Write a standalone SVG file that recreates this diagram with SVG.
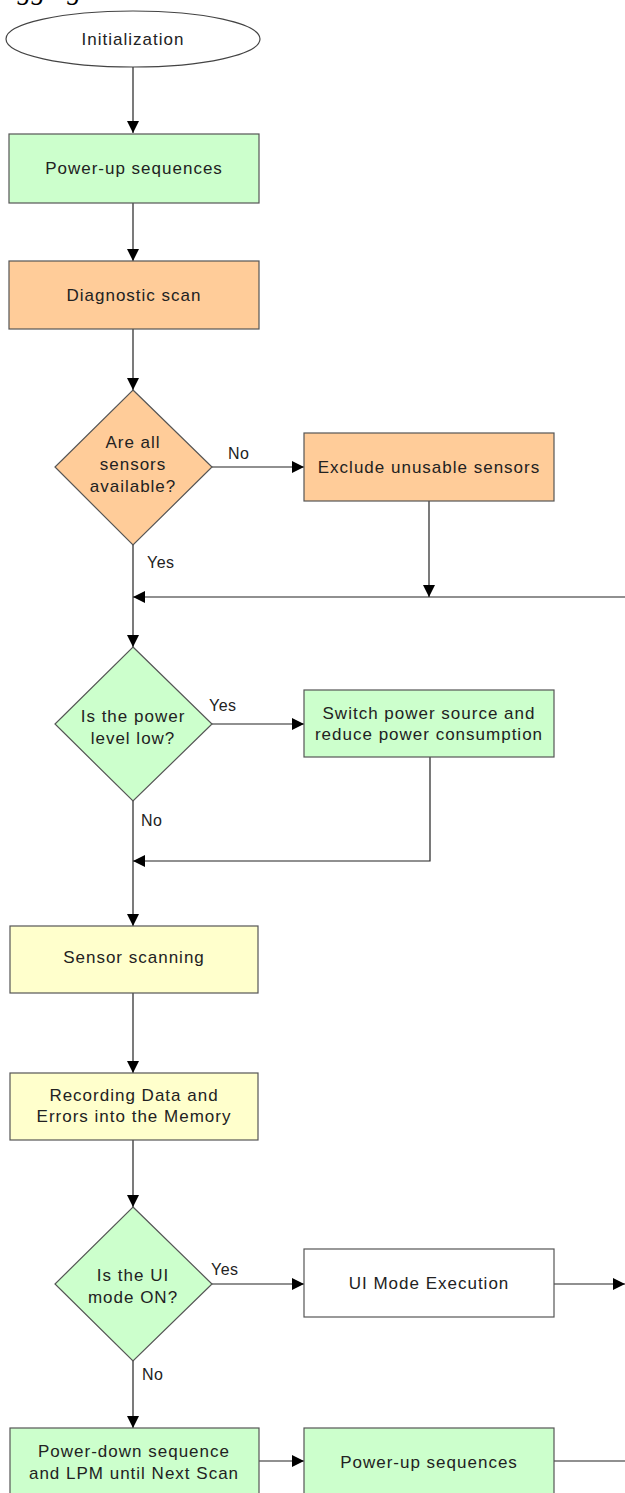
<svg xmlns="http://www.w3.org/2000/svg" width="625" height="1493" viewBox="0 0 625 1493">
<defs>
<marker id="ah" markerUnits="userSpaceOnUse" markerWidth="12" markerHeight="12" viewBox="0 0 12 12" refX="12" refY="6" orient="auto">
<path d="M0,0 L12,6 L0,12 Z" fill="#000"/>
</marker>
<style>
.t{font-family:"Liberation Sans",Arial,sans-serif;font-size:17px;letter-spacing:1px;fill:#222;text-anchor:middle}
.l{font-family:"Liberation Sans",Arial,sans-serif;font-size:16px;letter-spacing:0.5px;fill:#222}
.box{stroke:#555;stroke-width:1.2}
.g{fill:#CCFFCC}.o{fill:#FFCC99}.y{fill:#FFFFCC}.w{fill:#FFFFFF}
.c{fill:none;stroke:#222;stroke-width:1.2}
</style>
</defs>
<rect width="625" height="1493" fill="#fff"/>
<text x="-12" y="-1" font-family="'Liberation Serif',serif" font-style="italic" font-size="28" fill="#000">Logging</text>

<g id="connectors">
<path class="c" d="M133,67 V133" marker-end="url(#ah)"/>
<path class="c" d="M133,203 V261" marker-end="url(#ah)"/>
<path class="c" d="M133,329 V390" marker-end="url(#ah)"/>
<path class="c" d="M212,467 H304" marker-end="url(#ah)"/>
<path class="c" d="M429,501 V597" marker-end="url(#ah)"/>
<path class="c" d="M625,597 H133" marker-end="url(#ah)"/>
<path class="c" d="M133,545 V647" marker-end="url(#ah)"/>
<path class="c" d="M212,724 H304" marker-end="url(#ah)"/>
<path class="c" d="M430,757 V861 H133" marker-end="url(#ah)"/>
<path class="c" d="M133,801 V926" marker-end="url(#ah)"/>
<path class="c" d="M133,993 V1073" marker-end="url(#ah)"/>
<path class="c" d="M133,1140 V1207" marker-end="url(#ah)"/>
<path class="c" d="M212,1284 H304" marker-end="url(#ah)"/>
<path class="c" d="M554,1284 H625" marker-end="url(#ah)"/>
<path class="c" d="M133,1361 V1428" marker-end="url(#ah)"/>
<path class="c" d="M259,1461 H304" marker-end="url(#ah)"/>
<path class="c" d="M554,1461 H625"/>
<text class="l" x="228" y="459">No</text>
<text class="l" x="147" y="568">Yes</text>
<text class="l" x="209" y="711">Yes</text>
<text class="l" x="141" y="826">No</text>
<text class="l" x="211" y="1275">Yes</text>
<text class="l" x="142" y="1380">No</text>
</g>

<g id="n-init">
<ellipse cx="133" cy="39" rx="127" ry="28" fill="#fff" stroke="#444" stroke-width="1.2"/>
<text class="t" x="133" y="45">Initialization</text>
</g>
<g id="n-powerup1">
<rect class="box g" x="9" y="134" width="250" height="69"/>
<text class="t" x="134" y="174">Power-up sequences</text>
</g>
<g id="n-diag">
<rect class="box o" x="9" y="261" width="250" height="68"/>
<text class="t" x="134" y="301">Diagnostic scan</text>
</g>
<g id="n-sensors-q">
<polygon class="box o" points="133,390 212,467 133,545 55,467"/>
<text class="t" x="133" y="448">Are all</text>
<text class="t" x="133" y="470">sensors</text>
<text class="t" x="133" y="492">available?</text>
</g>
<g id="n-exclude">
<rect class="box o" x="304" y="433" width="250" height="68"/>
<text class="t" x="429" y="473">Exclude unusable sensors</text>
</g>
<g id="n-power-q">
<polygon class="box g" points="133,647 212,724 133,801 55,724"/>
<text class="t" x="133" y="722">Is the power</text>
<text class="t" x="133" y="744">level low?</text>
</g>
<g id="n-switch">
<rect class="box g" x="304" y="690" width="250" height="67"/>
<text class="t" x="429" y="719">Switch power source and</text>
<text class="t" x="429" y="740">reduce power consumption</text>
</g>
<g id="n-scan">
<rect class="box y" x="10" y="926" width="248" height="67"/>
<text class="t" x="134" y="963">Sensor scanning</text>
</g>
<g id="n-record">
<rect class="box y" x="10" y="1073" width="248" height="67"/>
<text class="t" x="134" y="1101">Recording Data and</text>
<text class="t" x="134" y="1122">Errors into the Memory</text>
</g>
<g id="n-ui-q">
<polygon class="box g" points="133,1207 212,1284 133,1361 55,1284"/>
<text class="t" x="133" y="1281">Is the UI</text>
<text class="t" x="133" y="1303">mode ON?</text>
</g>
<g id="n-ui-exec">
<rect class="box w" x="304" y="1249" width="250" height="68"/>
<text class="t" x="429" y="1289">UI Mode Execution</text>
</g>
<g id="n-powerdown">
<rect class="box g" x="10" y="1428" width="249" height="80"/>
<text class="t" x="134" y="1457">Power-down sequence</text>
<text class="t" x="134" y="1479">and LPM until Next Scan</text>
</g>
<g id="n-powerup2">
<rect class="box g" x="304" y="1428" width="250" height="80"/>
<text class="t" x="429" y="1468">Power-up sequences</text>
</g>
</svg>
